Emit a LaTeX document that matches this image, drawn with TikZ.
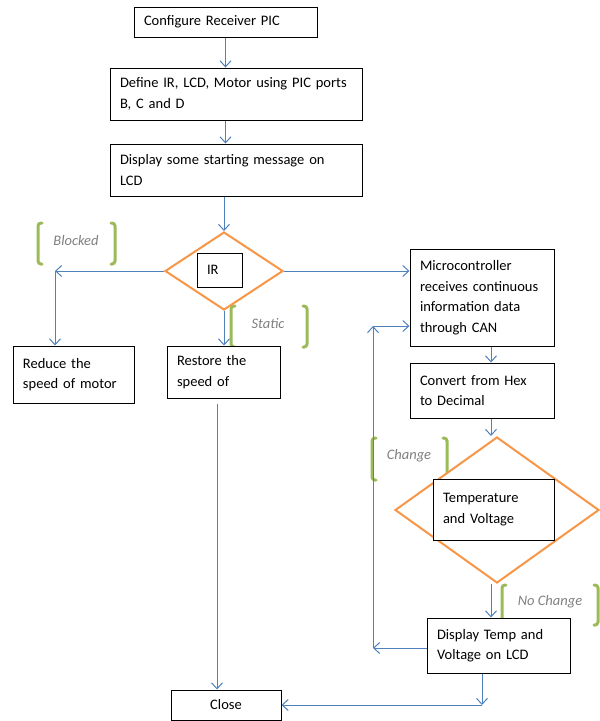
\documentclass[tikz,border=0pt]{standalone}
\usepackage{fontspec}
\setmainfont{Carlito}
\usepackage{xcolor}
\usepackage{tikz}
\usetikzlibrary{arrows.meta, shapes.geometric}

\definecolor{flow}{RGB}{79,129,189}
\definecolor{decor}{RGB}{247,150,70}
\definecolor{brack}{RGB}{155,187,89}
\definecolor{note}{RGB}{128,128,128}

\begin{document}
\begin{tikzpicture}[x=1pt, y=-1pt,
        box/.style={draw, line width=1pt, fill=white, align=left, inner xsep=10pt, inner ysep=0pt, font=\fontsize{14.5}{20.5}\selectfont},
        dec/.style={diamond, draw=decor, line width=2pt, fill=white, inner sep=0pt},
        arr/.style={draw=flow, line width=1pt, -{Straight Barb[length=6pt,width=11pt]}},
        brk/.style={draw=brack, line width=3pt, line cap=round, rounded corners=3pt},
        lbl/.style={text=note, inner sep=0pt, font=\fontsize{14.5}{20.5}\selectfont\itshape}]
        \useasboundingbox (0,0) rectangle (600,721);

        % bracket pairs round the branch labels
        \draw[brk] (42,223) -- (38,223) -- (38,264) -- (42,264);
        \draw[brk] (111,223) -- (115,223) -- (115,264) -- (111,264);
        \draw[brk] (235,306) -- (231,306) -- (231,347) -- (235,347);
        \draw[brk] (303,306) -- (307,306) -- (307,347) -- (303,347);
        \draw[brk] (376,438) -- (372,438) -- (372,480) -- (376,480);
        \draw[brk] (443,438) -- (447,438) -- (447,480) -- (443,480);
        \draw[brk] (506,585) -- (502,585) -- (502,625) -- (506,625);
        \draw[brk] (594,585) -- (598,585) -- (598,625) -- (594,625);

        \node[lbl] at (76,241)  (blocked)  {Blocked};
        \node[lbl] at (268,324) (static)   {Static};
        \node[lbl] at (409,456) (change)   {Change};
        \node[lbl] at (550,602) (nochange) {No Change};

        \node[box, text width=163pt, minimum height=30pt] at (225.5,22) (cfg) {Configure Receiver PIC};
        \node[box, text width=232pt, minimum height=52pt] at (236,94)  (def) {Define IR, LCD, Motor using PIC ports\\B, C and D};
        \node[box, text width=232pt, minimum height=52pt] at (236,170) (msg) {Display some starting message on\\LCD};

        \node[dec, minimum width=118pt, minimum height=78pt] at (224,271) (ir) {};
        \node[box, text width=25pt, minimum height=34pt] at (219.5,270) (irt) {IR};

        \node[box, text width=101pt, minimum height=57pt] at (73.5,374.5) (reduce) {Reduce the\\speed of motor};
        \node[box, text width=93pt, minimum height=52pt] at (223.5,372) (restore) {Restore the\\speed of};

        \node[box, text width=124pt, minimum height=97pt] at (482,297.5) (micro) {Microcontroller\\receives continuous\\information data\\through CAN};
        \node[box, text width=124pt, minimum height=55pt] at (482,390.5) (convert) {Convert from Hex\\to Decimal};

        \node[dec, minimum width=204pt, minimum height=146pt] at (497,510) (temp) {};
        \node[box, text width=101pt, minimum height=61pt] at (493.5,509.5) (tempt) {Temperature\\and Voltage};

        \node[box, text width=123pt, minimum height=55pt] at (498.5,645.5) (display) {Display Temp and\\Voltage on LCD};
        \node[box, text width=90pt, minimum height=30pt, align=center] at (226,705) (close) {Close};

        \coordinate (blk) at (55,271);
        \coordinate (rs) at (217,404);
        \coordinate (cx) at (491,0);
        \coordinate (lp) at (373,648);
        \coordinate (mi) at (373,326);
        \coordinate (cl) at (482,705);

        \draw[arr] (cfg.south) -- (cfg.south |- def.north);
        \draw[arr] (cfg.south |- def.south) -- (cfg.south |- msg.north);
        \draw[arr] (ir.north |- msg.south) -- (ir.north);
        \draw[arr] (ir.west) -- (blk);
        \draw[arr] (blk) -- (blk |- reduce.north);
        \draw[arr] (ir.south) -- (ir.south |- restore.north);
        \draw[arr] (rs) -- (rs |- close.north);
        \draw[arr] (ir.east) -- (ir.east -| micro.west);
        \draw[arr] (micro.south -| cx) -- (convert.north -| cx);
        \draw[arr] (convert.south -| cx) -- (temp.north -| cx);
        \draw[arr] (temp.south -| cx) -- (display.north -| cx);
        \draw[arr] (display.west |- lp) -- (lp);
        \draw[arr] (lp) -- (mi);
        \draw[arr] (mi) -- (mi -| micro.west);
        \draw[arr] (display.south -| cl) -- (cl);
        \draw[arr] (cl) -- (close.east);
\end{tikzpicture}
\end{document}
